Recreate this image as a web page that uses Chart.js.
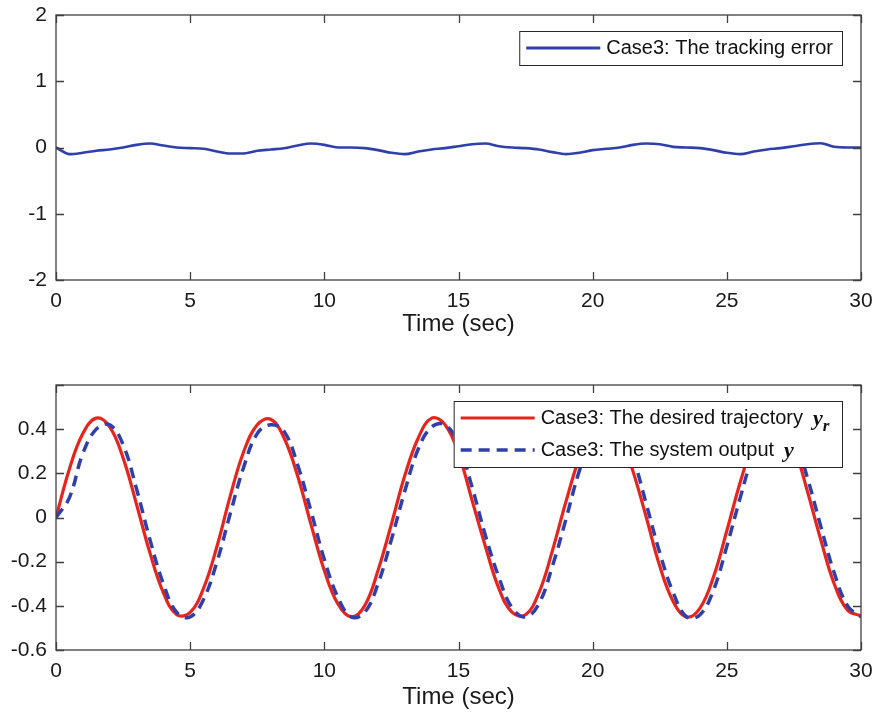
<!DOCTYPE html>
<html>
<head>
<meta charset="utf-8">
<script src="https://cdn.jsdelivr.net/npm/chart.js@4.4.1/dist/chart.umd.min.js"></script>
<style>
  body { margin: 0; background: #fff; }
  canvas { position: absolute; left: 0; }
</style>
</head>
<body>
<canvas id="chart-error" width="877" height="360" style="top:0px"></canvas>
<canvas id="chart-traj" width="877" height="362" style="top:360px"></canvas>
<script>
// ---------- data ----------
const timeSec = [0, 0.5, 1, 1.5, 2, 2.5, 3, 3.5, 4, 4.5, 5, 5.5, 6, 6.5, 7, 7.5, 8, 8.5, 9, 9.5,
  10, 10.5, 11, 11.5, 12, 12.5, 13, 13.5, 14, 14.5, 15, 15.5, 16, 16.5, 17, 17.5, 18, 18.5, 19, 19.5,
  20, 20.5, 21, 21.5, 22, 22.5, 23, 23.5, 24, 24.5, 25, 25.5, 26, 26.5, 27, 27.5, 28, 28.5, 29, 29.5, 30];

const trackingError = [0, -0.10, -0.08, -0.05, -0.03, 0.00, 0.04, 0.06, 0.03, 0.00,
  -0.01, -0.02, -0.06, -0.09, -0.09, -0.05, -0.03, -0.01, 0.03, 0.06,
  0.04, 0.00, 0.00, -0.01, -0.04, -0.08, -0.10, -0.06, -0.03, -0.01,
  0.02, 0.05, 0.06, 0.02, 0.00, -0.01, -0.03, -0.07, -0.10, -0.08,
  -0.04, -0.02, 0.00, 0.04, 0.06, 0.05, 0.01, 0.00, -0.01, -0.04,
  -0.08, -0.10, -0.06, -0.03, -0.01, 0.02, 0.05, 0.065, 0.01, 0.00, 0.00];

const desiredTraj = [0.00, 0.22, 0.38, 0.45, 0.41, 0.27, 0.06, -0.16, -0.34, -0.44,
  -0.43, -0.32, -0.13, 0.10, 0.30, 0.42, 0.445, 0.36, 0.19, -0.03,
  -0.24, -0.39, -0.45, -0.40, -0.24, -0.03, 0.19, 0.36, 0.45, 0.42,
  0.29, 0.08, -0.13, -0.32, -0.43, -0.44, -0.34, -0.15, 0.07, 0.27,
  0.41, 0.45, 0.38, 0.21, 0.00, -0.22, -0.38, -0.45, -0.41, -0.27,
  -0.06, 0.16, 0.34, 0.44, 0.43, 0.32, 0.12, -0.10, -0.30, -0.42, -0.445];

const systemOutput = [0.00, 0.09, 0.29, 0.40, 0.42, 0.33, 0.13, -0.10, -0.30, -0.43,
  -0.45, -0.37, -0.20, 0.02, 0.23, 0.38, 0.42, 0.39, 0.24, 0.03,
  -0.19, -0.36, -0.45, -0.43, -0.30, -0.10, 0.12, 0.31, 0.41, 0.42,
  0.33, 0.14, -0.08, -0.27, -0.41, -0.45, -0.39, -0.22, -0.01, 0.21,
  0.37, 0.42, 0.40, 0.27, 0.06, -0.16, -0.34, -0.45, -0.44, -0.33,
  -0.13, 0.09, 0.29, 0.41, 0.42, 0.36, 0.18, -0.04, -0.25, -0.40, -0.45];

const xTitle = 'Time (sec)';
const legendTop = [{ text: 'Case3: The tracking error', color: '#2f3fab', dash: [] }];
const legendBottom = [
  { text: 'Case3: The desired trajectory', sym: 'y', sub: 'r', color: '#e8241d', dash: [] },
  { text: 'Case3: The system output', sym: 'y', sub: '', color: '#2f3fab', dash: [11, 7] }
];

// ---------- helpers ----------
const FONT = '"Liberation Sans", Arial, Helvetica, sans-serif';

function toPoints(ys) {
  return timeSec.map((t, i) => ({ x: t, y: ys[i] }));
}

function fmtTick(v) {
  return String(Number(v.toFixed(1)));
}

// frame, inward ticks and legend drawn like MATLAB
const matlabBox = {
  id: 'matlabBox',
  afterDatasetsDraw(chart, args, opts) {
    const { ctx, chartArea: a, scales: { x, y } } = chart;
    ctx.save();
    ctx.strokeStyle = '#404040';
    ctx.lineWidth = 1.3;
    ctx.setLineDash([]);
    ctx.strokeRect(a.left, a.top, a.right - a.left, a.bottom - a.top);
    ctx.beginPath();
    x.ticks.forEach(t => {
      const px = Math.round(x.getPixelForValue(t.value)) + 0.5;
      ctx.moveTo(px, a.bottom); ctx.lineTo(px, a.bottom - 8);
      ctx.moveTo(px, a.top); ctx.lineTo(px, a.top + 8);
    });
    y.ticks.forEach(t => {
      const py = Math.round(y.getPixelForValue(t.value)) + 0.5;
      ctx.moveTo(a.left, py); ctx.lineTo(a.left + 8, py);
      ctx.moveTo(a.right, py); ctx.lineTo(a.right - 8, py);
    });
    ctx.stroke();

    // legend
    const items = opts.items || [];
    ctx.font = '20px ' + FONT;
    let maxW = 0;
    items.forEach(it => {
      let w = ctx.measureText(it.text).width;
      if (it.sym) w += 10 + 12 + (it.sub ? 8 : 0);
      maxW = Math.max(maxW, w);
    });
    const rowH = 32;
    const boxW = 87 + maxW + 9;
    const boxH = items.length * rowH + 2;
    const bx = a.right - 19 - boxW;
    const by = a.top + 16;
    ctx.fillStyle = '#fff';
    ctx.fillRect(bx, by, boxW, boxH);
    ctx.strokeStyle = '#262626';
    ctx.lineWidth = 1;
    ctx.strokeRect(bx + 0.5, by + 0.5, boxW, boxH);
    items.forEach((it, i) => {
      const cy = by + 17 + i * rowH;
      ctx.strokeStyle = it.color;
      ctx.lineWidth = it.dash.length ? 3.5 : 3;
      ctx.setLineDash(it.dash);
      ctx.beginPath();
      ctx.moveTo(bx + 7, cy); ctx.lineTo(bx + 81, cy);
      ctx.stroke();
      ctx.setLineDash([]);
      ctx.fillStyle = '#111';
      ctx.textBaseline = 'middle';
      ctx.textAlign = 'left';
      ctx.font = '20px ' + FONT;
      ctx.fillText(it.text, bx + 87, cy);
      if (it.sym) {
        const sx = bx + 87 + ctx.measureText(it.text).width + 10;
        ctx.font = 'italic bold 22px "Liberation Serif", "Times New Roman", serif';
        ctx.fillText(it.sym, sx, cy + 1);
        if (it.sub) {
          const sw = ctx.measureText(it.sym).width;
          ctx.font = 'italic bold 17px "Liberation Serif", "Times New Roman", serif';
          ctx.fillText(it.sub, sx + sw, cy + 9);
        }
      }
    });
    ctx.restore();
  }
};

function makeOptions(yMin, yMax, yStep, padTop, xHeight, titlePadBottom, legendItems, hideTop) {
  return {
    responsive: false,
    animation: false,
    devicePixelRatio: 1,
    layout: { padding: { top: padTop, right: 16, left: 0, bottom: 0 } },
    plugins: {
      legend: { display: false },
      tooltip: { enabled: false },
      matlabBox: { items: legendItems }
    },
    elements: { point: { radius: 0 } },
    scales: {
      x: {
        type: 'linear',
        min: 0, max: 30,
        grid: { display: false, drawTicks: false },
        border: { display: false },
        ticks: {
          stepSize: 5,
          padding: 9,
          color: '#1a1a1a',
          font: { family: FONT, size: 21 },
          maxRotation: 0
        },
        title: {
          display: true,
          text: xTitle,
          color: '#1a1a1a',
          font: { family: FONT, size: 24 },
          padding: { top: 0, bottom: titlePadBottom }
        },
        afterFit(scale) {
          scale.height = xHeight;
          scale.paddingRight = 0;
          scale.paddingLeft = 0;
        }
      },
      y: {
        min: yMin, max: yMax,
        grid: { display: false, drawTicks: false },
        border: { display: false },
        ticks: {
          stepSize: yStep,
          padding: 9,
          color: '#1a1a1a',
          font: { family: FONT, size: 21 },
          callback: function(v) {
            if (hideTop && Math.abs(v - yMax) < 1e-6) return '';
            return fmtTick(v);
          }
        },
        afterFit(scale) {
          scale.width = 56;
          scale.paddingTop = 0;
          scale.paddingBottom = 0;
        }
      }
    }
  };
}

// ---------- charts ----------
new Chart(document.getElementById('chart-error'), {
  type: 'line',
  data: {
    datasets: [{
      label: legendTop[0].text,
      data: toPoints(trackingError),
      borderColor: legendTop[0].color,
      borderWidth: 2.6,
      fill: false,
      cubicInterpolationMode: 'monotone'
    }]
  },
  options: makeOptions(-2, 2, 1, 15, 80, 21, legendTop, false),
  plugins: [matlabBox]
});

new Chart(document.getElementById('chart-traj'), {
  type: 'line',
  data: {
    datasets: [{
      label: legendBottom[0].text,
      data: toPoints(desiredTraj),
      borderColor: legendBottom[0].color,
      borderWidth: 3.2,
      fill: false,
      order: 2,
      tension: 0.4
    }, {
      label: legendBottom[1].text,
      data: toPoints(systemOutput),
      borderColor: legendBottom[1].color,
      borderWidth: 3.5,
      borderDash: legendBottom[1].dash,
      fill: false,
      order: 1,
      tension: 0.4
    }]
  },
  options: makeOptions(-0.6, 0.6, 0.2, 25, 72, 10, legendBottom, true),
  plugins: [matlabBox]
});
</script>
</body>
</html>
